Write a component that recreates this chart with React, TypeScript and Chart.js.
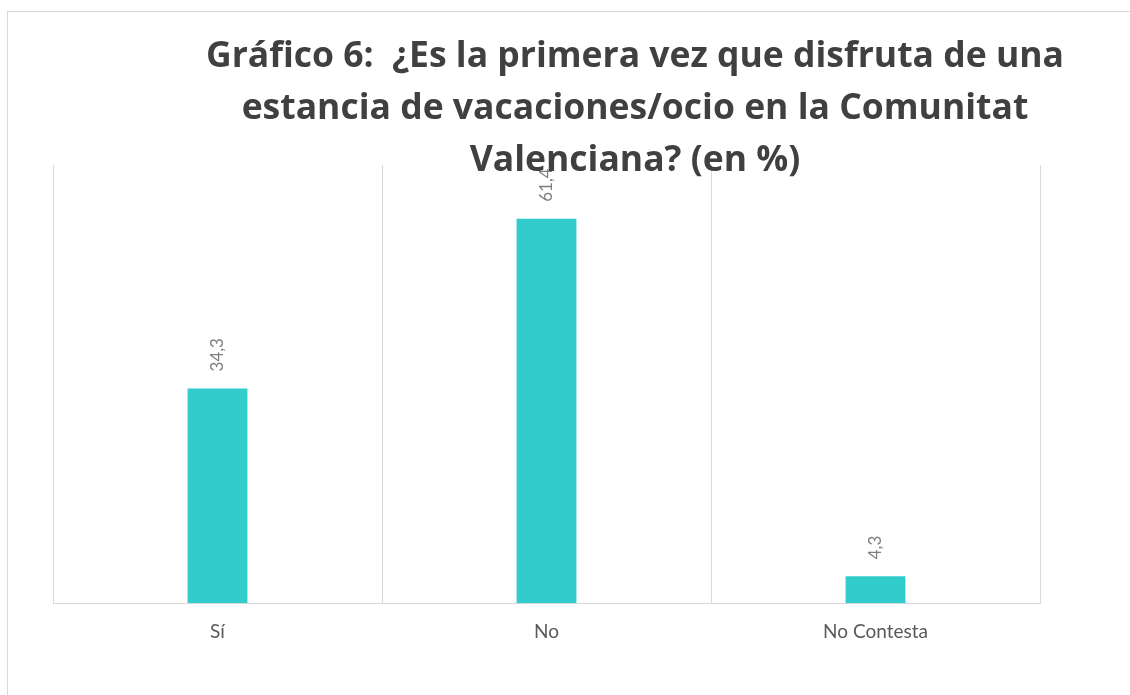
import React, { useEffect, useRef } from "react";
import { Chart, registerables } from "chart.js";

Chart.register(...registerables);

const categories = ["Sí", "No", "No Contesta"];
const values = [34.3, 61.4, 4.3];
const valueLabels = ["34,3", "61,4", "4,3"];
const titleLines = [
  "Gráfico 6:  ¿Es la primera vez que disfruta de una",
  "estancia de vacaciones/ocio en la Comunitat",
  "Valenciana? (en %)",
];

const FONT = "Lato, 'Open Sans', sans-serif";
const TITLE_FONT = "'Open Sans', Lato, sans-serif";

const titlePlugin = {
  id: "customTitle",
  afterDraw(chart: any) {
    const ctx = chart.ctx;
    ctx.save();
    ctx.font = `bold 35.5px ${TITLE_FONT}`;
    ctx.fillStyle = "#404040";
    ctx.textAlign = "center";
    ctx.textBaseline = "alphabetic";
    const cx = chart.width / 2;
    titleLines.forEach((line, i) => {
      ctx.fillText(line, cx, 55 + i * 52);
    });
    ctx.restore();
  },
};

const valueLabelPlugin = {
  id: "valueLabels",
  afterDatasetsDraw(chart: any) {
    const ctx = chart.ctx;
    const meta = chart.getDatasetMeta(0);
    ctx.save();
    ctx.font = `17px ${FONT}`;
    ctx.fillStyle = "#7f7f7f";
    meta.data.forEach((bar: any, i: number) => {
      ctx.save();
      ctx.translate(bar.x, bar.y - 17);
      ctx.rotate(-Math.PI / 2);
      ctx.textAlign = "left";
      ctx.textBaseline = "middle";
      ctx.fillText(valueLabels[i], 0, 0);
      ctx.restore();
    });
    ctx.restore();
  },
};

export default function App() {
  const canvasRef = useRef<HTMLCanvasElement | null>(null);

  useEffect(() => {
    if (!canvasRef.current) return;
    const chart = new Chart(canvasRef.current, {
      type: "bar",
      data: {
        labels: categories,
        datasets: [
          {
            data: values,
            backgroundColor: "#33CCCC",
            borderWidth: 0,
            barPercentage: 0.182,
            categoryPercentage: 1,
          },
        ],
      },
      options: {
        animation: false,
        responsive: true,
        maintainAspectRatio: false,
        layout: { padding: { left: 45, right: 222, top: 153, bottom: 35 } },
        plugins: {
          legend: { display: false },
          title: { display: false },
          tooltip: { enabled: false },
        },
        scales: {
          x: {
            grid: {
              display: true,
              color: "#d9d9d9",
              lineWidth: 1,
              drawTicks: false,
              offset: true,
            },
            border: { display: true, color: "#d9d9d9", width: 1 },
            ticks: {
              color: "#595959",
              font: { family: FONT, size: 19 },
              padding: 17,
            },
          },
          y: {
            display: false,
            min: 0,
            max: 70,
          },
        },
      },
      plugins: [valueLabelPlugin, titlePlugin],
    });
    return () => chart.destroy();
  }, []);

  return (
    <div
      style={{
        position: "absolute",
        left: 0,
        top: 0,
        width: 1130,
        height: 695,
        overflow: "hidden",
        background: "#ffffff",
      }}
    >
      <div
        style={{
          position: "absolute",
          left: 7,
          top: 11,
          width: 1254,
          height: 683,
          borderLeft: "1px solid #d9d9d9",
          borderTop: "1px solid #d9d9d9",
        }}
      >
        <canvas ref={canvasRef} />
      </div>
    </div>
  );
}
